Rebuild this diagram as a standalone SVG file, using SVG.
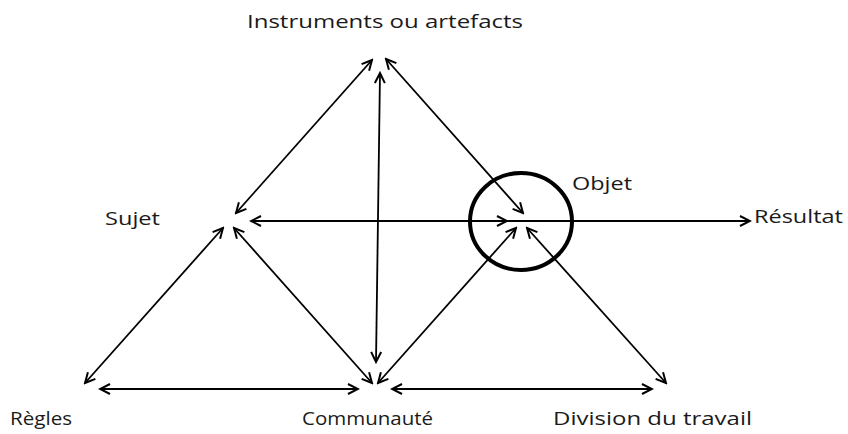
<svg xmlns="http://www.w3.org/2000/svg" width="848" height="434" viewBox="0 0 848 434">
  <style>
    .lbl { font-family: "Open Sans", "Noto Sans", sans-serif; font-size: 19px; fill: #1a1a1a; }
    .c { stroke: #000; stroke-width: 1.8; fill: none; }
    .bi { marker-start: url(#ah); marker-end: url(#ah); }
    .one { marker-end: url(#ah); }
  </style>
  <defs>
    <marker id="ah" markerUnits="userSpaceOnUse" viewBox="-12 -7 14 14" refX="0" refY="0" markerWidth="14" markerHeight="14" orient="auto-start-reverse">
      <path d="M-10,-5 L0,0 L-10,5" fill="none" stroke="#000" stroke-width="2" stroke-linejoin="miter"/>
    </marker>
  </defs>
  <rect width="848" height="434" fill="#fff"/>

  <g id="connectors">
    <line class="c bi" x1="236" y1="213" x2="372" y2="60"/>
    <line class="c bi" x1="380" y1="73" x2="376" y2="362"/>
    <line class="c bi" x1="386" y1="59" x2="523" y2="213"/>
    <line class="c bi" x1="251" y1="221" x2="507" y2="221"/>
    <line class="c one" x1="507" y1="221" x2="750" y2="221"/>
    <line class="c bi" x1="223" y1="228" x2="85" y2="383"/>
    <line class="c bi" x1="234" y1="228" x2="372" y2="383"/>
    <line class="c bi" x1="378" y1="383" x2="516" y2="228"/>
    <line class="c bi" x1="527" y1="228" x2="666" y2="383"/>
    <line class="c bi" x1="100" y1="389" x2="358" y2="389"/>
    <line class="c bi" x1="392" y1="389" x2="652" y2="389"/>
  </g>

  <g id="instruments"><text class="lbl" x="247" y="28" textLength="276" lengthAdjust="spacingAndGlyphs">Instruments ou artefacts</text></g>
  <g id="sujet"><text class="lbl" x="105" y="225" textLength="55" lengthAdjust="spacingAndGlyphs">Sujet</text></g>
  <g id="objet">
    <ellipse cx="521" cy="221.5" rx="51" ry="48.5" fill="none" stroke="#000" stroke-width="4"/>
    <text class="lbl" x="572" y="190" textLength="60" lengthAdjust="spacingAndGlyphs">Objet</text>
  </g>
  <g id="resultat"><text class="lbl" x="754" y="223" textLength="89" lengthAdjust="spacingAndGlyphs">Résultat</text></g>
  <g id="regles"><text class="lbl" x="10" y="425" textLength="62" lengthAdjust="spacingAndGlyphs">Règles</text></g>
  <g id="communaute"><text class="lbl" x="302" y="425" textLength="131" lengthAdjust="spacingAndGlyphs">Communauté</text></g>
  <g id="division"><text class="lbl" x="553" y="425" textLength="199" lengthAdjust="spacingAndGlyphs">Division du travail</text></g>
</svg>
